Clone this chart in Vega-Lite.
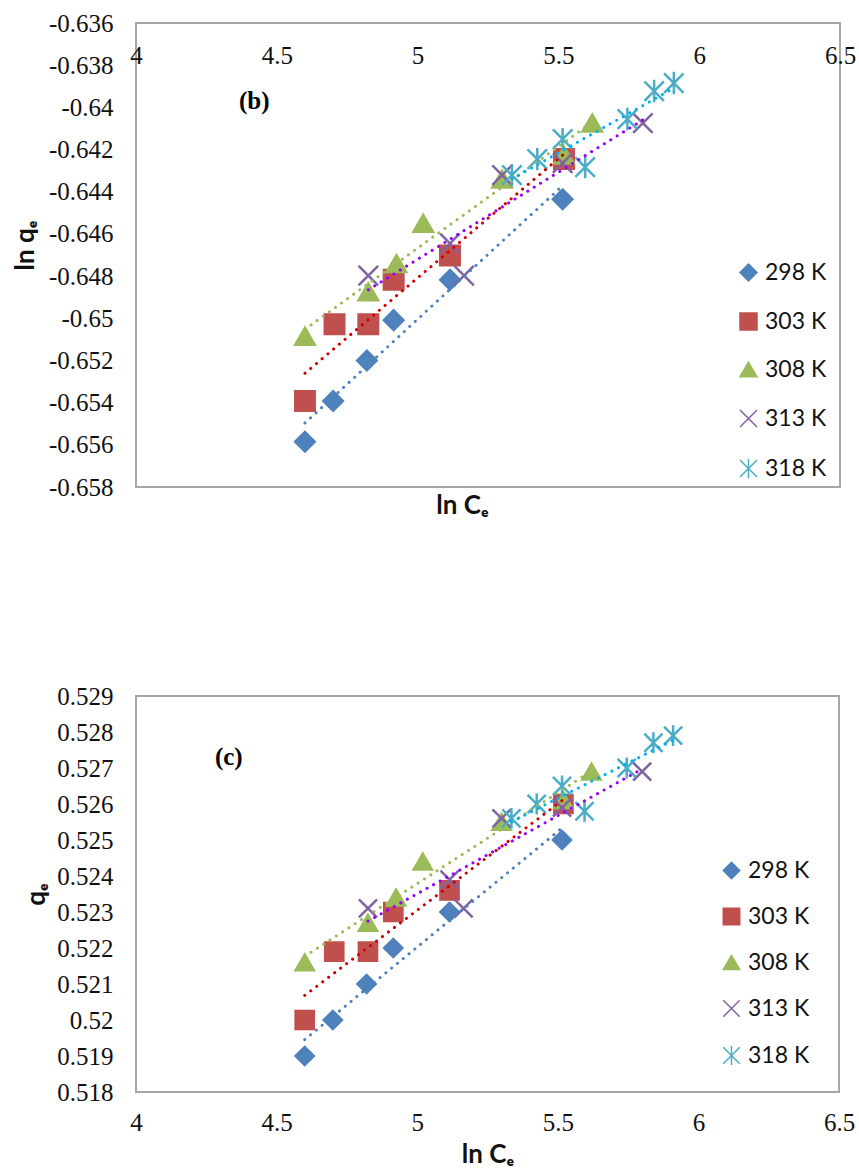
{
  "$schema": "https://vega.github.io/schema/vega-lite/v6.json",
  "background": "white",
  "padding": {"left": 11, "top": 10, "right": 5, "bottom": 2},
  "spacing": 164,
  "config": {
    "view": {"stroke": "#a6a6a6", "strokeWidth": 2},
    "axis": {
      "grid": false,
      "ticks": false,
      "tickSize": 0,
      "domain": false,
      "labelFont": "Liberation Serif",
      "labelFontSize": 25,
      "labelColor": "#111111",
      "labelFlush": false,
      "labelBound": false,
      "labelOverlap": false,
      "titleFont": "Lato",
      "titleFontSize": 26,
      "titleFontWeight": "bold",
      "titleColor": "#111111"
    },
    "legend": {
      "labelFont": "Lato",
      "labelFontSize": 23,
      "labelColor": "#111111",
      "padding": 0,
      "labelOffset": 5,
      "symbolStrokeWidth": 1.5
    }
  },
  "datasets": {
    "adsorption": [
      {"T": "298 K", "lnC": 4.600, "qe": 0.5190, "lnq": -0.655851},
      {"T": "298 K", "lnC": 4.700, "qe": 0.5200, "lnq": -0.653926},
      {"T": "298 K", "lnC": 4.820, "qe": 0.5210, "lnq": -0.652005},
      {"T": "298 K", "lnC": 4.915, "qe": 0.5220, "lnq": -0.650088},
      {"T": "298 K", "lnC": 5.115, "qe": 0.5230, "lnq": -0.648174},
      {"T": "298 K", "lnC": 5.515, "qe": 0.5250, "lnq": -0.644357},
      {"T": "303 K", "lnC": 4.600, "qe": 0.5200, "lnq": -0.653926},
      {"T": "303 K", "lnC": 4.705, "qe": 0.5219, "lnq": -0.650280},
      {"T": "303 K", "lnC": 4.825, "qe": 0.5219, "lnq": -0.650280},
      {"T": "303 K", "lnC": 4.915, "qe": 0.5230, "lnq": -0.648174},
      {"T": "303 K", "lnC": 5.115, "qe": 0.5236, "lnq": -0.647027},
      {"T": "303 K", "lnC": 5.520, "qe": 0.5260, "lnq": -0.642454},
      {"T": "308 K", "lnC": 4.600, "qe": 0.5216, "lnq": -0.650854},
      {"T": "308 K", "lnC": 4.825, "qe": 0.5227, "lnq": -0.648747},
      {"T": "308 K", "lnC": 4.925, "qe": 0.5234, "lnq": -0.647409},
      {"T": "308 K", "lnC": 5.020, "qe": 0.5244, "lnq": -0.645500},
      {"T": "308 K", "lnC": 5.300, "qe": 0.5255, "lnq": -0.643405},
      {"T": "308 K", "lnC": 5.520, "qe": 0.5261, "lnq": -0.642264},
      {"T": "308 K", "lnC": 5.620, "qe": 0.5269, "lnq": -0.640744},
      {"T": "313 K", "lnC": 4.825, "qe": 0.5231, "lnq": -0.647982},
      {"T": "313 K", "lnC": 5.115, "qe": 0.5239, "lnq": -0.646454},
      {"T": "313 K", "lnC": 5.165, "qe": 0.5231, "lnq": -0.647982},
      {"T": "313 K", "lnC": 5.300, "qe": 0.5256, "lnq": -0.643215},
      {"T": "313 K", "lnC": 5.515, "qe": 0.5259, "lnq": -0.642644},
      {"T": "313 K", "lnC": 5.800, "qe": 0.5269, "lnq": -0.640744},
      {"T": "318 K", "lnC": 5.335, "qe": 0.5256, "lnq": -0.643215},
      {"T": "318 K", "lnC": 5.425, "qe": 0.5260, "lnq": -0.642454},
      {"T": "318 K", "lnC": 5.515, "qe": 0.5265, "lnq": -0.641504},
      {"T": "318 K", "lnC": 5.595, "qe": 0.5258, "lnq": -0.642834},
      {"T": "318 K", "lnC": 5.745, "qe": 0.5270, "lnq": -0.640555},
      {"T": "318 K", "lnC": 5.840, "qe": 0.5277, "lnq": -0.639227},
      {"T": "318 K", "lnC": 5.910, "qe": 0.5279, "lnq": -0.638848}
    ]
  },
  "resolve": {
    "scale": {"x": "independent", "y": "independent", "shape": "independent", "fill": "independent", "stroke": "independent", "color": "independent"}
  },
  "vconcat": [
    {
      "width": 704,
      "height": 464,
      "layer": [
        {
          "data": {"name": "adsorption"},
          "mark": {"type": "point", "size": 380, "strokeWidth": 2.5, "opacity": 1},
          "encoding": {
            "x": {
              "field": "lnC", "type": "quantitative",
              "scale": {"domain": [4, 6.5], "nice": false, "zero": false},
              "axis": {
                "orient": "top",
                "values": [4, 4.5, 5, 5.5, 6, 6.5],
                "tickCount": 20,
                "labelExpr": "'' + datum.value",
                "labelOverlap": false,
                "labelPadding": -32,
                "labelBaseline": "middle",
                "title": "ln Cₑ",
                "titleY": 482,
                "titleX": 326,
                "titleBaseline": "middle"
              }
            },
            "y": {
              "field": "lnq", "type": "quantitative",
              "scale": {"domain": [-0.658, -0.636], "nice": false, "zero": false},
              "axis": {
                "values": [-0.636, -0.638, -0.64, -0.642, -0.644, -0.646, -0.648, -0.65, -0.652, -0.654, -0.656, -0.658],
                "tickCount": 20,
                "labelExpr": "'' + datum.value",
                "labelOverlap": false,
                "labelPadding": 23,
                "title": "ln qₑ",
                "titlePadding": 10,
                "titleY": 222
              }
            },
            "shape": {
              "field": "T", "type": "nominal",
              "scale": {
                "domain": ["298 K", "303 K", "308 K", "313 K", "318 K"],
                "range": ["diamond", "square", "triangle-up", "M-1,-1L1,1M-1,1L1,-1", "M-1,-1L1,1M-1,1L1,-1M0,-1.15L0,1.15"]
              },
              "legend": {"orient": "none", "legendX": 601, "legendY": 238, "title": null, "symbolSize": 290, "rowPadding": 24}
            },
            "fill": {
              "field": "T", "type": "nominal",
              "scale": {"domain": ["298 K", "303 K", "308 K", "313 K", "318 K"], "range": ["#4f81bd", "#c0504d", "#9bbb59", "transparent", "transparent"]}
            },
            "stroke": {
              "field": "T", "type": "nominal",
              "scale": {"domain": ["298 K", "303 K", "308 K", "313 K", "318 K"], "range": ["#4f81bd", "#c0504d", "#9bbb59", "#8064a2", "#4bacc6"]}
            }
          }
        },
        {
          "data": {"name": "adsorption"},
          "transform": [{"regression": "lnq", "on": "lnC", "groupby": ["T"]}],
          "mark": {"type": "line", "strokeWidth": 3, "strokeCap": "round", "strokeDash": [0.1, 7.4]},
          "encoding": {
            "x": {"field": "lnC", "type": "quantitative"},
            "y": {"field": "lnq", "type": "quantitative"},
            "color": {
              "field": "T", "type": "nominal",
              "scale": {"domain": ["298 K", "303 K", "308 K", "313 K", "318 K"], "range": ["#4f81bd", "#d00000", "#9bbb59", "#9900ff", "#00b0f0"]},
              "legend": null
            }
          }
        },
        {
          "data": {"values": [{"label": "(b)"}]},
          "mark": {"type": "text", "font": "Liberation Serif", "fontSize": 25, "fontWeight": "bold", "color": "#000000"},
          "encoding": {
            "x": {"datum": 4.42, "type": "quantitative"},
            "y": {"datum": -0.6397, "type": "quantitative"},
            "text": {"field": "label"}
          }
        }
      ]
    },
    {
      "width": 703,
      "height": 396,
      "layer": [
        {
          "data": {"name": "adsorption"},
          "mark": {"type": "point", "size": 330, "strokeWidth": 2.5, "opacity": 1},
          "encoding": {
            "x": {
              "field": "lnC", "type": "quantitative",
              "scale": {"domain": [4, 6.5], "nice": false, "zero": false},
              "axis": {
                "values": [4, 4.5, 5, 5.5, 6, 6.5],
                "tickCount": 20,
                "labelExpr": "'' + datum.value",
                "labelOverlap": false,
                "labelPadding": 18,
                "labelBaseline": "top",
                "title": "ln Cₑ",
                "titlePadding": 6
              }
            },
            "y": {
              "field": "qe", "type": "quantitative",
              "scale": {"domain": [0.518, 0.529], "nice": false, "zero": false},
              "axis": {
                "values": [0.518, 0.519, 0.52, 0.521, 0.522, 0.523, 0.524, 0.525, 0.526, 0.527, 0.528, 0.529],
                "tickCount": 20,
                "labelExpr": "'' + datum.value",
                "labelOverlap": false,
                "labelPadding": 23,
                "title": "qₑ",
                "titlePadding": 7
              }
            },
            "shape": {
              "field": "T", "type": "nominal",
              "scale": {
                "domain": ["298 K", "303 K", "308 K", "313 K", "318 K"],
                "range": ["diamond", "square", "triangle-up", "M-1,-1L1,1M-1,1L1,-1", "M-1,-1L1,1M-1,1L1,-1M0,-1.15L0,1.15"]
              },
              "legend": {"orient": "none", "legendX": 584, "legendY": 163, "title": null, "symbolSize": 270, "rowPadding": 22}
            },
            "fill": {
              "field": "T", "type": "nominal",
              "scale": {"domain": ["298 K", "303 K", "308 K", "313 K", "318 K"], "range": ["#4f81bd", "#c0504d", "#9bbb59", "transparent", "transparent"]}
            },
            "stroke": {
              "field": "T", "type": "nominal",
              "scale": {"domain": ["298 K", "303 K", "308 K", "313 K", "318 K"], "range": ["#4f81bd", "#c0504d", "#9bbb59", "#8064a2", "#4bacc6"]}
            }
          }
        },
        {
          "data": {"name": "adsorption"},
          "transform": [{"regression": "qe", "on": "lnC", "groupby": ["T"]}],
          "mark": {"type": "line", "strokeWidth": 3, "strokeCap": "round", "strokeDash": [0.1, 7.4]},
          "encoding": {
            "x": {"field": "lnC", "type": "quantitative"},
            "y": {"field": "qe", "type": "quantitative"},
            "color": {
              "field": "T", "type": "nominal",
              "scale": {"domain": ["298 K", "303 K", "308 K", "313 K", "318 K"], "range": ["#4f81bd", "#d00000", "#9bbb59", "#9900ff", "#00b0f0"]},
              "legend": null
            }
          }
        },
        {
          "data": {"values": [{"label": "(c)"}]},
          "mark": {"type": "text", "font": "Liberation Serif", "fontSize": 25, "fontWeight": "bold", "color": "#000000"},
          "encoding": {
            "x": {"datum": 4.33, "type": "quantitative"},
            "y": {"datum": 0.52731, "type": "quantitative"},
            "text": {"field": "label"}
          }
        }
      ]
    }
  ]
}
